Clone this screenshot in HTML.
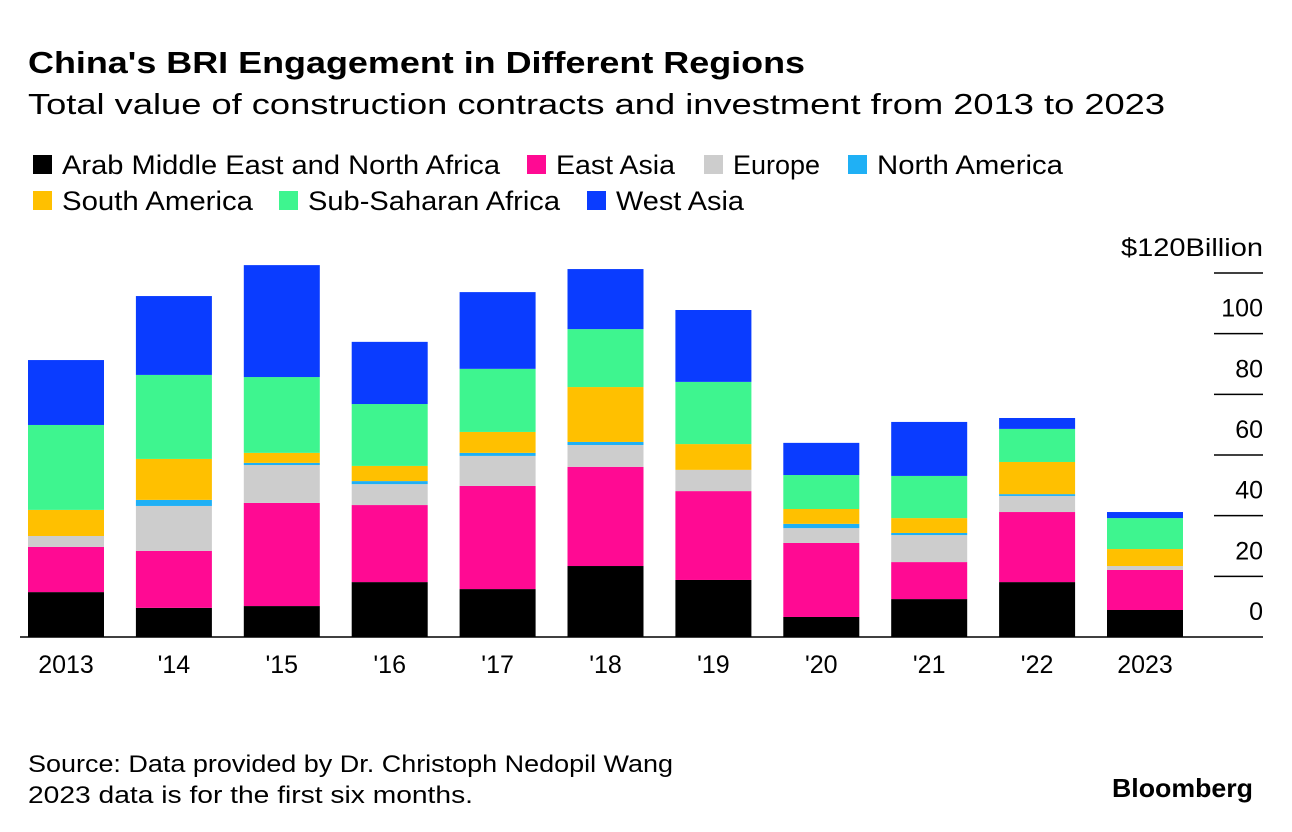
<!DOCTYPE html>
<html><head><meta charset="utf-8"><style>
body{margin:0;background:#fff;font-family:"Liberation Sans",sans-serif;}
#c{position:relative;width:1292px;height:832px;overflow:hidden;}
</style></head><body>
<div id="c">
<svg width="1292" height="832" id="svg">
<text x="28" y="73" font-size="31" font-weight="bold" textLength="777" lengthAdjust="spacingAndGlyphs">China's BRI Engagement in Different Regions</text>
<text x="28" y="114" font-size="29" textLength="1137" lengthAdjust="spacingAndGlyphs">Total value of construction contracts and investment from 2013 to 2023</text>
<g id="legend"></g>
<g id="grid"></g>
<g id="bars"></g>
<g id="xlab"></g>
<text x="28" y="772" font-size="24" textLength="645" lengthAdjust="spacingAndGlyphs">Source: Data provided by Dr. Christoph Nedopil Wang</text>
<text x="28" y="803" font-size="24" textLength="445" lengthAdjust="spacingAndGlyphs">2023 data is for the first six months.</text>
<text x="1112" y="797" font-size="26" font-weight="bold" textLength="141" lengthAdjust="spacingAndGlyphs">Bloomberg</text>
</svg>
</div>
<script>
const categories=["2013","'14","'15","'16","'17","'18","'19","'20","'21","'22","2023"];
const seriesNames=["Arab Middle East and North Africa","East Asia","Europe","North America","South America","Sub-Saharan Africa","West Asia"];
const arabMENA=[14.8,9.6,10.2,18.1,15.8,23.4,18.8,6.6,12.5,18.1,8.9];
const eastAsia=[14.9,18.8,34,25.4,34,32.7,29.3,24.4,12.2,23.1,13.2];
const europe=[3.6,14.8,12.5,6.9,9.9,7.2,7,4.9,8.9,5.3,1.3];
const northAmerica=[0,2,0.7,1,1,1,0,1.4,0.7,0.6,0];
const southAmerica=[8.6,13.5,3.3,5,6.9,18.1,8.5,4.9,4.9,10.6,5.6];
const subSaharan=[28,27.7,25,20.4,20.8,19.1,20.5,11.2,13.9,10.9,10.2];
const westAsia=[21.4,26,36.9,20.5,25.3,19.8,23.7,10.6,17.8,3.6,2];
const yTicks=[0,20,40,60,80,100,120];
const yTickLabels=["0","20","40","60","80","100","$120Billion"];
const series=[arabMENA,eastAsia,europe,northAmerica,southAmerica,subSaharan,westAsia];
const colors=["#000000","#ff0a93","#cdcdcd","#1fb0f5","#ffc000","#3ef58f","#0a3cff"];
const NS="http://www.w3.org/2000/svg";
const y0=637,pxPer=364/120;
const y=v=>y0-v*pxPer;
const x=i=>66+i*107.9;
const bw=76;
function mk(t,a,p){const e=document.createElementNS(NS,t);for(const k in a)e.setAttribute(k,a[k]);p.appendChild(e);return e;}
const leg=document.getElementById('legend');
const legPos=[[33,174],[527,174],[704,174],[848,174],[33,210],[279,210],[587,210]];
const legLen=[438,119,87,186,191,252,128];
seriesNames.forEach((n,i)=>{
  const g=mk('g',{},leg);
  
  
  mk('rect',{x:legPos[i][0],y:legPos[i][1]-19,width:19,height:19,fill:colors[i]},g);
  const t=mk('text',{x:legPos[i][0]+29,y:legPos[i][1],'font-size':27,textLength:legLen[i],lengthAdjust:'spacingAndGlyphs'},g);t.textContent=n;
});
const gr=document.getElementById('grid');
yTicks.forEach((v,i)=>{
  if(v>0){const l=mk('line',{x1:1214,x2:1263,y1:y(v),y2:y(v),stroke:'#000','stroke-width':1.5},gr);
  }
  const t=mk('text',{x:1263,y:y(v)-17,'font-size':25,'text-anchor':'end'},gr);
  if(v===120){t.setAttribute('textLength',142);t.setAttribute('lengthAdjust','spacingAndGlyphs');}
  
  t.textContent=yTickLabels[i];
});
const bl=mk('line',{x1:20,x2:1263,y1:y0,y2:y0,stroke:'#000','stroke-width':1.5},gr);

const bars=document.getElementById('bars');
categories.forEach((c,i)=>{
  let acc=0;
  series.forEach((s,j)=>{
    const v=s[i];if(v<=0)return;
    const r=mk('rect',{x:x(i)-bw/2,y:y(acc+v),width:bw,height:v*pxPer,fill:colors[j]},bars);
    
    
    acc+=v;
  });
  const t=mk('text',{x:x(i),y:673,'font-size':25,'text-anchor':'middle'},document.getElementById('xlab'));
  
  
  t.textContent=c;
});
</script>
</body></html>
